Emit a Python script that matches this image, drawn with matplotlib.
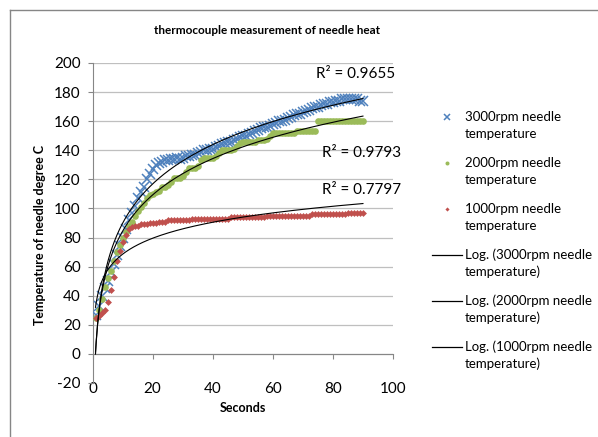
import matplotlib.pyplot as plt
from matplotlib.lines import Line2D
import numpy as np

plt.rcParams['font.family'] = ['Lato', 'DejaVu Sans']
plt.rcParams['axes.unicode_minus'] = False

seconds = list(range(1, 91))

temp_3000 = [27, 33, 40, 45, 50, 56, 62, 68, 74, 80,
             86, 92, 97, 102, 107, 111, 115, 120, 124, 127,
             130, 131, 132, 133, 133, 134, 134, 135, 134, 135,
             136, 136, 137, 137, 138, 139, 140, 140, 141, 141,
             142, 143, 144, 145, 146, 146, 147, 148, 149, 150,
             150, 151, 152, 153, 154, 155, 156, 156, 157, 158,
             159, 160, 160, 161, 162, 163, 164, 165, 165, 166,
             167, 168, 169, 170, 170, 171, 172, 172, 173, 173,
             174, 174, 175, 175, 175, 175, 175, 175, 174, 174]

temp_2000 = [25, 30, 38, 46, 52, 57, 64, 70, 75, 80,
             84, 88, 91, 95, 98, 101, 104, 107, 109, 110,
             111, 112, 115, 115, 116, 118, 121, 121, 121, 122,
             125, 128, 128, 128, 129, 133, 135, 135, 135, 135,
             136, 138, 140, 140, 140, 140, 141, 143, 145, 146,
             146, 146, 146, 146, 147, 147, 147, 148, 150, 152,
             152, 152, 152, 152, 152, 152, 152, 153, 153, 153,
             153, 153, 153, 153, 160, 160, 160, 160, 160, 160,
             160, 160, 160, 160, 160, 160, 160, 160, 160, 160]

temp_1000 = [25, 26, 28, 30, 36, 44, 53, 64, 71, 77,
             82, 86, 87, 88, 88, 89, 89, 89, 90, 90,
             90, 91, 91, 91, 92, 92, 92, 92, 92, 92,
             92, 92, 93, 93, 93, 93, 93, 93, 93, 93,
             93, 93, 93, 93, 93, 94, 94, 94, 94, 94,
             94, 94, 94, 94, 94, 94, 94, 95, 95, 95,
             95, 95, 95, 95, 95, 95, 95, 95, 95, 95,
             95, 95, 96, 96, 96, 96, 96, 96, 96, 96,
             96, 96, 96, 96, 97, 97, 97, 97, 97, 97]

r2_labels = ['R\u00b2 = 0.9655', 'R\u00b2 = 0.9793', 'R\u00b2 = 0.7797']

blue = '#4F81BD'
green = '#9BBB59'
red = '#C0504D'

W, H = 598, 437
fig = plt.figure(figsize=(W / 100, H / 100), dpi=100)
ax = fig.add_axes([92.5 / W, 1 - 383 / H, (393 - 92.5) / W, (383 - 63) / H])

x = np.array(seconds, dtype=float)
series = [
    ('3000', temp_3000, dict(marker='x', ms=7.5, mew=1.1, color=blue), 3),
    ('2000', temp_2000, dict(marker='o', ms=4.8, mew=0, color=green), 4),
    ('1000', temp_1000, dict(marker='D', ms=3.5, mew=0, color=red), 5),
]
for name, vals, style, z in series:
    ax.plot(x, vals, linestyle='none', zorder=z, **style)

# logarithmic trendlines fitted to each series
xs = np.linspace(x.min(), x.max(), 400)
for name, vals, style, z in series:
    a, b = np.polyfit(np.log(x), np.array(vals, dtype=float), 1)
    ax.plot(xs, a * np.log(xs) + b, color='black', lw=0.8, zorder=6)

ax.set_xlim(0, 100)
ax.set_ylim(-20, 200)
ax.set_xticks(np.arange(0, 101, 20))
ax.set_yticks(np.arange(-20, 201, 20))

for s in ['top', 'right']:
    ax.spines[s].set_visible(False)
ax.spines['bottom'].set_position(('data', 0))
ax.spines['bottom'].set_color('#868686')
ax.spines['left'].set_color('#868686')

ax.yaxis.grid(True, color='#BFBFBF', lw=0.9)
ax.set_axisbelow(True)
ax.yaxis.get_gridlines()[0].set_visible(False)

ax.tick_params(axis='both', labelsize=11, colors='#868686', labelcolor='black')
ax.tick_params(axis='y', length=3.5, pad=5)
ax.tick_params(axis='x', length=3.5, pad=17)

fig.text(243 / W, 1 - 408 / H, 'Seconds', ha='center', va='center',
         fontsize=9, fontweight='bold')
fig.text(40 / W, 1 - 235 / H, 'Temperature of needle degree C', ha='center',
         va='center', rotation=90, fontsize=9, fontweight='bold')

fig.text(267 / W, 1 - 30 / H, 'thermocouple measurement of needle heat',
         ha='center', va='center', fontsize=8.5, fontweight='bold')

ax.text(395 / W, 1 - 74 / H, r2_labels[0], transform=fig.transFigure,
        ha='right', va='center', fontsize=11)
ax.text(322 / W, 1 - 153 / H, r2_labels[1], transform=fig.transFigure,
        ha='left', va='center', fontsize=11)
ax.text(322 / W, 1 - 190 / H, r2_labels[2], transform=fig.transFigure,
        ha='left', va='center', fontsize=11)

# legend drawn by hand so the key sits on the first text line, as in Excel
legend_rows = []
for name, vals, style, z in series:
    legend_rows.append(('%srpm needle' % name, 'temperature', style))
for name, vals, style, z in series:
    legend_rows.append(('Log. (%srpm needle' % name, 'temperature)', None))

for i, (line1, line2, style) in enumerate(legend_rows):
    y1 = 117 + 46 * i
    if style is not None:
        st = dict(style)
        st['ms'] = st['ms'] * 0.6
        fig.add_artist(Line2D([447 / W], [1 - y1 / H], linestyle='none', **st))
    else:
        fig.add_artist(Line2D([432 / W, 462 / W], [1 - y1 / H, 1 - y1 / H],
                              color='black', lw=0.9))
    fig.text(465 / W, 1 - y1 / H, line1, ha='left', va='center', fontsize=9.5)
    fig.text(465 / W, 1 - (y1 + 17) / H, line2, ha='left', va='center', fontsize=9.5)

# chart area border
fig.add_artist(Line2D([10 / W, 10 / W], [0, 1 - 10 / H], color='#868686', lw=1))
fig.add_artist(Line2D([10 / W, 1], [1 - 10 / H, 1 - 10 / H], color='#868686', lw=1))

fig.savefig('out.png', dpi=100)
